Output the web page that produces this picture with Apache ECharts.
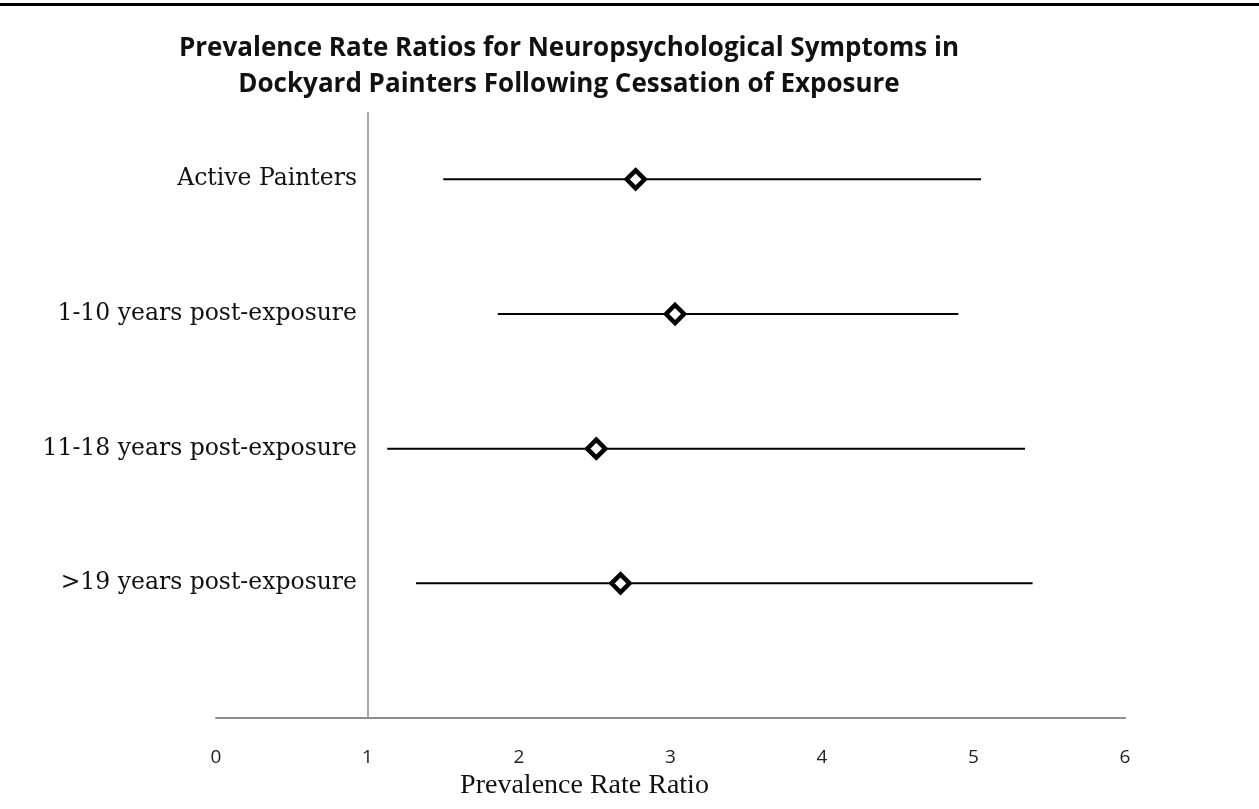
<!DOCTYPE html>
<html>
<head>
<meta charset="utf-8">
<script src="https://cdn.jsdelivr.net/npm/echarts@6/dist/echarts.min.js"></script>
<style>
html,body{margin:0;padding:0;background:#fff;}
#chart{width:1259px;height:809px;}
</style>
</head>
<body>
<div id="chart"></div>
<script>
// Data (top row first)
const categories = ['Active Painters', '1-10 years post-exposure', '11-18 years post-exposure', '>19 years post-exposure'];
const pointEstimate = [2.77, 3.03, 2.51, 2.67];
const lowerCI = [1.50, 1.86, 1.13, 1.32];
const upperCI = [5.05, 4.90, 5.34, 5.39];
const xTicks = [0, 1, 2, 3, 4, 5, 6];
const referenceValue = 1;

const n = categories.length;
const rowPos = categories.map((c, i) => n - i);
const barData = categories.map((c, i) => [lowerCI[i], upperCI[i], rowPos[i]]);
const pointData = categories.map((c, i) => [pointEstimate[i], rowPos[i]]);

const chart = echarts.init(document.getElementById('chart'), null, {renderer: 'canvas'});
chart.setOption({
  backgroundColor: '#fff',
  animation: false,
  title: {
    text: 'Prevalence Rate Ratios for Neuropsychological Symptoms in\nDockyard Painters Following Cessation of Exposure',
    left: 564,
    top: 26,
    textAlign: 'center',
    textStyle: {fontFamily: 'Open Sans', fontWeight: 'bold', fontSize: 26, lineHeight: 36, color: '#111'}
  },
  graphic: [{
    type: 'rect', left: 0, top: 3, shape: {width: 1259, height: 3}, style: {fill: '#000'}, silent: true
  }],
  grid: {left: 216, right: 134, top: 112, bottom: 91, containLabel: false},
  xAxis: {
    type: 'value', min: xTicks[0], max: xTicks[xTicks.length - 1], interval: 1,
    axisLine: {show: true, lineStyle: {color: '#8c8c8c', width: 2}},
    axisTick: {show: false},
    splitLine: {show: false},
    axisLabel: {margin: 30, fontFamily: 'Open Sans', fontSize: 19, color: '#222'},
    name: 'Prevalence Rate Ratio',
    nameLocation: 'middle',
    nameGap: 50,
    nameTextStyle: {fontFamily: 'Liberation Serif', fontSize: 28, color: '#111', padding: [0, 172, 0, 0]}
  },
  yAxis: {
    type: 'value', min: 0, max: 4.5, interval: 1,
    offset: -152,
    axisLine: {show: false},
    axisTick: {show: false},
    splitLine: {show: false},
    axisLabel: {
      margin: 11, fontFamily: 'DejaVu Serif', fontSize: 23.5, color: '#111',
      showMaxLabel: false,
      formatter: function (v) {
        const i = n - v;
        return (Number.isInteger(v) && i >= 0 && i < n) ? categories[i] : '';
      }
    }
  },
  series: [
    {
      type: 'custom',
      data: barData,
      encode: {x: [0, 1], y: 2},
      z: 2,
      renderItem: function (params, api) {
        const p1 = api.coord([api.value(0), api.value(2)]);
        const p2 = api.coord([api.value(1), api.value(2)]);
        return {type: 'line', shape: {x1: p1[0], y1: p1[1], x2: p2[0], y2: p2[1]}, style: {stroke: '#000', lineWidth: 2}};
      }
    },
    {
      type: 'scatter',
      data: pointData,
      symbol: 'diamond',
      symbolSize: 18,
      z: 3,
      itemStyle: {color: '#fff', borderColor: '#000', borderWidth: 4.5, opacity: 1},
      markLine: {
        silent: true, symbol: ['none', 'none'],
        label: {show: false},
        lineStyle: {color: '#8c8c8c', width: 1.5, type: 'solid'},
        data: [{xAxis: referenceValue}]
      }
    }
  ]
});
</script>
</body>
</html>
